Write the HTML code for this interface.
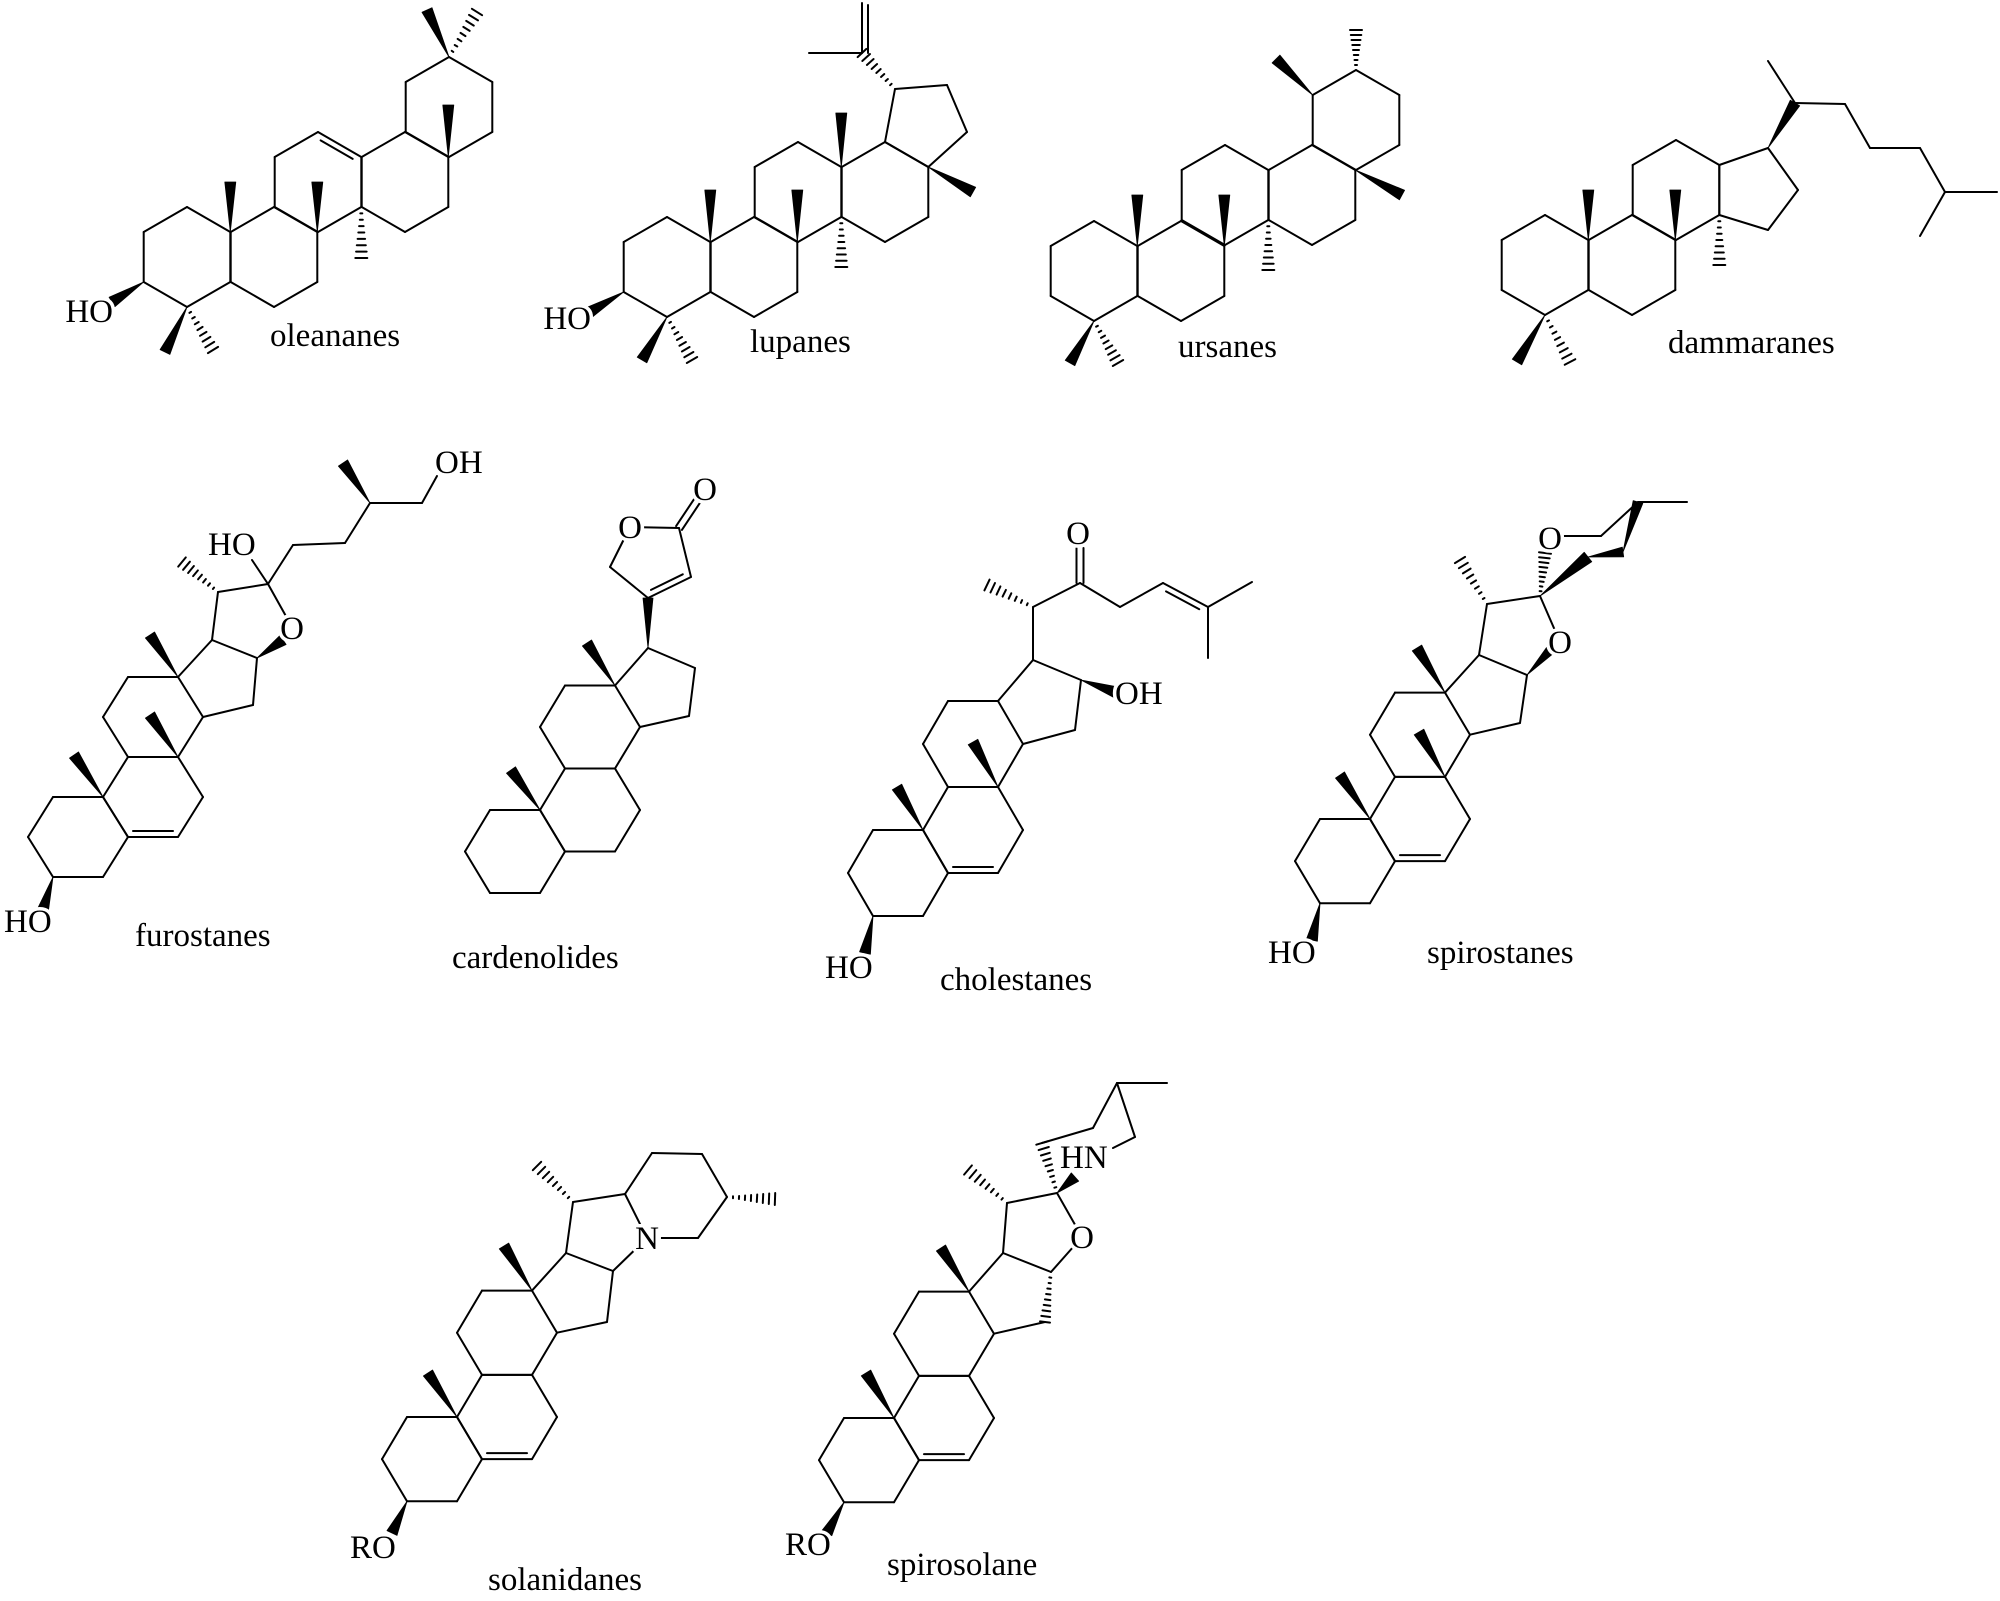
<!DOCTYPE html>
<html><head><meta charset="utf-8">
<style>
html,body{margin:0;padding:0;background:#fff;}
svg{display:block;}
#g line{stroke:#000;stroke-width:2;stroke-linecap:round;}
#g polygon{fill:#000;stroke:#000;stroke-width:0.8;stroke-linejoin:round;}
text{font-family:"Liberation Serif","DejaVu Serif",serif;font-size:33px;fill:#000;}
text.a{stroke:#fff;stroke-width:7px;paint-order:stroke;stroke-linejoin:round;}
circle.w{fill:#fff;}
</style></head>
<body>
<svg id="s" width="2000" height="1601" viewBox="0 0 2000 1601" xmlns="http://www.w3.org/2000/svg">
<rect width="2000" height="1601" fill="#fff"/>
<g id="g"></g>
<g id="t">
<circle class="w" cx="292" cy="628" r="14"/>
<circle class="w" cx="630" cy="527" r="14"/>
<circle class="w" cx="705" cy="489" r="14"/>
<circle class="w" cx="1078" cy="533" r="14"/>
<circle class="w" cx="1560" cy="642" r="14"/>
<circle class="w" cx="1550" cy="538" r="14"/>
<circle class="w" cx="647" cy="1238" r="14"/>
<circle class="w" cx="1082" cy="1237" r="14"/>
<!-- row 1 -->
<text class="a" x="113" y="322" text-anchor="end">HO</text>
<text x="270" y="346">oleananes</text>
<text class="a" x="591" y="329" text-anchor="end">HO</text>
<text x="750" y="352">lupanes</text>
<text x="1178" y="357">ursanes</text>
<text x="1668" y="353">dammaranes</text>
<!-- row 2 -->
<text class="a" x="4" y="932">HO</text>
<text class="a" x="292" y="639" text-anchor="middle">O</text>
<text class="a" x="208" y="555">HO</text>
<text class="a" x="435" y="473">OH</text>
<text x="135" y="946">furostanes</text>

<text class="a" x="630" y="538" text-anchor="middle">O</text>
<text class="a" x="705" y="500" text-anchor="middle">O</text>
<text x="452" y="968">cardenolides</text>

<text class="a" x="825" y="978">HO</text>
<text class="a" x="1115" y="704">OH</text>
<text class="a" x="1078" y="544" text-anchor="middle">O</text>
<text x="940" y="990">cholestanes</text>

<text class="a" x="1268" y="963">HO</text>
<text class="a" x="1560" y="653" text-anchor="middle">O</text>
<text class="a" x="1550" y="549" text-anchor="middle">O</text>
<text x="1427" y="963">spirostanes</text>
<!-- row 3 -->
<text class="a" x="350" y="1558">RO</text>
<text class="a" x="647" y="1249" text-anchor="middle">N</text>
<text x="488" y="1590">solanidanes</text>

<text class="a" x="785" y="1555">RO</text>
<text class="a" x="1082" y="1248" text-anchor="middle">O</text>
<text class="a" x="1060" y="1168">HN</text>
<text x="887" y="1575">spirosolane</text>
</g>
</svg>
<script>
(function(){
var out='';
function f(v){return Math.round(v*10)/10;}
function L(a,b){out+='<line x1="'+f(a[0])+'" y1="'+f(a[1])+'" x2="'+f(b[0])+'" y2="'+f(b[1])+'"/>';}
function P(p){for(var i=0;i<p.length;i++)L(p[i],p[(i+1)%p.length]);}
function PL(p){for(var i=0;i<p.length-1;i++)L(p[i],p[i+1]);}
function W(a,b,w){w=w||5.5;var dx=b[0]-a[0],dy=b[1]-a[1],l=Math.hypot(dx,dy),nx=-dy/l*w,ny=dx/l*w;
 out+='<polygon points="'+f(a[0])+','+f(a[1])+' '+f(b[0]+nx)+','+f(b[1]+ny)+' '+f(b[0]-nx)+','+f(b[1]-ny)+'"/>';}
function H(a,b,w,n){w=w||6;n=n||8;var dx=b[0]-a[0],dy=b[1]-a[1],l=Math.hypot(dx,dy),ux=-dy/l,uy=dx/l;
 for(var i=1;i<=n;i++){var t=i/n,px=a[0]+dx*t,py=a[1]+dy*t,h=Math.max(1,w*t);L([px+ux*h,py+uy*h],[px-ux*h,py-uy*h]);}}
function D(a,b,c,off,sh){off=off||6;sh=(sh===undefined)?0.13:sh;var dx=b[0]-a[0],dy=b[1]-a[1],l=Math.hypot(dx,dy),nx=-dy/l,ny=dx/l;
 var mx=(a[0]+b[0])/2,my=(a[1]+b[1])/2;if((c[0]-mx)*nx+(c[1]-my)*ny<0){nx=-nx;ny=-ny;}
 L([a[0]+dx*sh+nx*off,a[1]+dy*sh+ny*off],[b[0]-dx*sh+nx*off,b[1]-dy*sh+ny*off]);}
function D2(a,b,off){off=off||3.5;var dx=b[0]-a[0],dy=b[1]-a[1],l=Math.hypot(dx,dy),nx=-dy/l*off,ny=dx/l*off;
 L([a[0]+nx,a[1]+ny],[b[0]+nx,b[1]+ny]);L([a[0]-nx,a[1]-ny],[b[0]-nx,b[1]-ny]);}
function hx(cx,cy){var r=50,w=43.3;return [[cx,cy-r],[cx+w,cy-r/2],[cx+w,cy+r/2],[cx,cy+r],[cx-w,cy+r/2],[cx-w,cy-r/2]];}
function ster(x,y,sy){var o={C1:[-50,0],C2:[-75,43],C3:[-50,86],C4:[0,86],C5:[25,43],C6:[75,43],C7:[100,0],C8:[75,-43],C9:[25,-43],C10:[0,0],C11:[0,-86],C12:[25,-129],C13:[75,-129],C14:[100,-86]};
 var p={};for(var k in o)p[k]=[x+o[k][0],y+o[k][1]*sy];
 P([p.C1,p.C2,p.C3,p.C4,p.C5,p.C10]);P([p.C5,p.C6,p.C7,p.C8,p.C9,p.C10]);P([p.C9,p.C11,p.C12,p.C13,p.C14,p.C8]);
 p.cB=[x+50,y];return p;}

var A=hx(187,257),B=hx(274,257),C=hx(318,182),Dd=hx(405,182),E=hx(449,107);
[A,B,C,Dd,E].forEach(P);
D(C[0],C[1],[318,182]);
W(A[4],[112,302]);W(A[3],[165,352]);H(A[3],[213,350]);
W(A[1],[A[1][0],182]);W(B[1],[B[1][0],182]);H(C[2],[C[2][0],258]);
W(Dd[1],[Dd[1][0],105]);W(E[0],[427,10]);H(E[0],[477,12]);

A=hx(667,267);B=hx(754,267);C=hx(798,192);Dd=hx(885,192);
[A,B,C,Dd].forEach(P);
var r5=[Dd[0],Dd[1],[967,132],[947,85],[895,89]];P(r5);
W(A[4],[590,312]);W(A[3],[642,360]);H(A[3],[692,360]);
W(A[1],[A[1][0],190]);W(B[1],[B[1][0],190]);H(C[2],[C[2][0],267]);W(C[1],[C[1][0],113]);
W(Dd[1],[973,192]);H([895,89],[862,53]);L([862,53],[862,3]);L([868,53],[868,5]);L([862,53],[809,53]);

A=hx(1094,271);B=hx(1181,271);C=hx(1225,195);Dd=hx(1312,195);E=hx(1356,120);
[A,B,C,Dd,E].forEach(P);
W(A[3],[1070,363]);H(A[3],[1118,363]);
W(A[1],[A[1][0],195]);W(B[1],[B[1][0],195]);H(C[2],[C[2][0],270]);
W(Dd[1],[1402,195]);W(E[5],[1276,59]);H(E[0],[1356,30]);

A=hx(1545,265);B=hx(1632,265);C=hx(1676,190);
[A,B,C].forEach(P);
P([C[1],[1768,148],[1798,190],[1768,230],C[2]]);
W(A[3],[1517,362]);H(A[3],[1570,362]);
W(A[1],[A[1][0],190]);W(B[1],[B[1][0],190]);H(C[2],[C[2][0],265]);
W([1768,148],[1795,103]);L([1795,103],[1768,61]);
PL([[1795,103],[1845,104],[1870,148],[1920,148],[1945,192],[1997,192]]);L([1945,192],[1920,236]);

var p=ster(103,797,0.93);
D(p.C5,p.C6,p.cB,6,0.1);
var c17=[212,640],c16=[257,658],c15=[253,705],c20=[218,592],c22=[268,584],O=[292,627];
PL([p.C13,c17,c16,c15,p.C14]);PL([c17,c20,c22,O]);W(c16,[283,640]);
H(c20,[182,562]);L(c22,[252,560]);
PL([c22,[293,545],[345,543],[370,503],[422,503],[437,476]]);W([370,503],[343,463]);
W(p.C3,[43,910]);
W(p.C10,[74,755]);W(p.C8,[150,715]);W(p.C13,[150,635]);

p=ster(540,810,0.965);
c17=[648,648];c16=[695,668];c15=[689,716];
PL([p.C13,c17,c16,c15,p.C14]);
var c20=[648,598];W(c17,c20,5);
var c21=[610,567],Or=[630,527],c23=[679,528],c22b=[691,577];
PL([c20,c21,Or,c23,c22b,c20]);D(c22b,c20,[650,560]);
D2(c23,[703,492],3.5);
W(p.C10,[511,770]);W(p.C13,[587,643]);

p=ster(923,830,1);
D(p.C5,p.C6,p.cB,6,0.1);
c17=[1033,660];c16=[1081,680];c15=[1075,730];
PL([p.C13,c17,c16,c15,p.C14]);
W(c16,[1115,692]);W(p.C3,[865,953]);
var C20=[1033,607],C22=[1080,583];
L(c17,C20);H(C20,[987,585]);L(C20,C22);D2(C22,[1080,548],3.5);
PL([C22,[1120,607],[1163,583],[1208,607],[1252,582]]);D([1163,583],[1208,607],[1180,630]);
L([1208,607],[1208,658]);
W(p.C10,[897,787]);W(p.C8,[973,742]);

p=ster(1370,819,0.98);
D(p.C5,p.C6,p.cB,6,0.1);
c17=[1479,655];c16=[1527,675];c15=[1520,723];
PL([p.C13,c17,c16,c15,p.C14]);
c20=[1487,604];var c22s=[1540,596];
PL([c17,c20,c22s,[1560,642]]);W(c16,[1555,645]);
H(c20,[1460,560]);H(c22s,[1545,553],6,9);
PL([[1563,536],[1601,536],[1638,502],[1687,502]]);
W([1623,552],[1638,502],5);W([1588,557],[1623,552],5);W([1540,596],[1588,557],6);
W(p.C3,[1312,940]);
W(p.C10,[1340,775]);W(p.C8,[1419,732]);W(p.C13,[1417,648]);

p=ster(457,1417,0.98);
D(p.C5,p.C6,p.cB,6,0.1);
c17=[566,1253];c16=[613,1271];c15=[607,1322];
PL([p.C13,c17,c16,c15,p.C14]);
var s20=[573,1202],s22=[625,1194],N=[647,1238];
PL([c17,s20,s22,N,c16]);
PL([s22,[652,1153],[702,1154],[727,1197],[698,1238],N]);
H([727,1197],[775,1199]);H(s20,[537,1166]);
W(p.C3,[392,1533]);
W(p.C10,[428,1373]);W(p.C13,[504,1246]);

p=ster(894,1418,0.98);
D(p.C5,p.C6,p.cB,6,0.1);
c17=[1003,1253];c16=[1051,1272];c15=[1045,1322];
PL([p.C13,c17]);PL([c15,p.C14]);H(c16,c15,5,9);
var q20=[1007,1203],q22=[1057,1193],Oq=[1082,1237];
PL([c17,c16,Oq,q22,q20,c17]);
H(q20,[968,1170]);W(q22,[1075,1177]);H(q22,[1042,1143],6,9);
PL([[1042,1143],[1093,1128],[1117,1083],[1135,1137],[1113,1148]]);L([1117,1083],[1167,1083]);
W(p.C3,[827,1533]);
W(p.C10,[866,1373]);W(p.C13,[941,1248]);

document.getElementById('g').innerHTML=out;
})();
</script>
</body></html>
